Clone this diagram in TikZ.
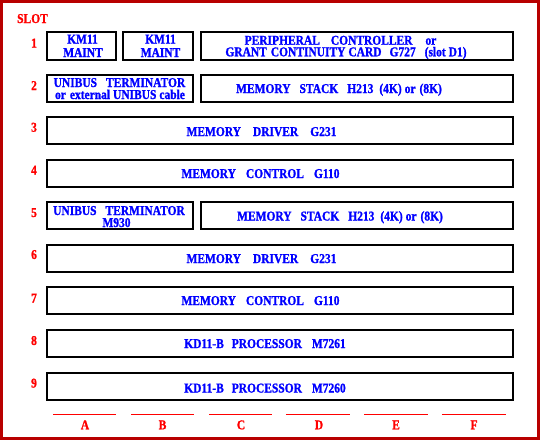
\documentclass[tikz,border=0pt]{standalone}
\usepackage{fontspec}
\setmainfont{Liberation Serif}[FakeStretch=0.85, BoldFeatures={FakeBold=1.2}]
\definecolor{frame}{RGB}{184,0,0}
\definecolor{txtblue}{RGB}{0,0,255}
\definecolor{txtred}{RGB}{255,0,0}
\newcommand\gapp[1]{\hspace{#1pt}}
\tikzset{
  box/.style={draw=black, line width=2pt, inner sep=0pt, minimum height=27pt},
  lbl/.style={text=txtblue, font=\bfseries\fontsize{13.5}{14}\selectfont, anchor=base, inner sep=0pt},
  rlbl/.style={text=txtred, font=\bfseries\fontsize{13.5}{14}\selectfont, anchor=base, inner sep=0pt},
  slotline/.style={draw=txtred, line width=1.3pt}
}
\begin{document}
\begin{tikzpicture}[x=1pt,y=-1pt]
\useasboundingbox (0,0) rectangle (540,440);
\fill[white] (0,0) rectangle (540,440);
\draw[frame, line width=3pt] (1.5,1.5) rectangle (538.5,438.5);

\node[rlbl] (slot) at (32.5,23) {SLOT};

% row 1
\node[box, minimum width=69pt, minimum height=28pt] (b1a) at (81,46) {};
\node[box, minimum width=70pt, minimum height=28pt] (b1b) at (158,46) {};
\node[box, minimum width=311.5pt, minimum height=28pt] (b1c) at (356.75,46) {};
\node[lbl] (t1a1) at (82.5,43.5) {KM11};
\node[lbl] (t1a2) at (83,57) {MAINT};
\node[lbl] (t1b1) at (160.5,43.5) {KM11};
\node[lbl] (t1b2) at (160.5,57) {MAINT};
\node[lbl] (t1c1) at (340.5,44.7) {PERIPHERAL\gapp{11}CONTROLLER\gapp{13}or};
\node[lbl] (t1c2) at (346,56.3) {GRANT\gapp{4}CONTINUITY\gapp{3}CARD\gapp{8}G727\gapp{9}(slot\gapp{3}D1)};

% row 2
\node[box, minimum width=146.5pt] (b2a) at (119.75,88) {};
\node[box, minimum width=311.5pt] (b2b) at (356.75,88) {};
\node[lbl] (t2a1) at (119.5,87) {UNIBUS\gapp{9}TERMINATOR};
\node[lbl] (t2a2) at (120,99) {or\gapp{4}external\gapp{3}UNIBUS\gapp{3}cable};
\node[lbl] (t2b) at (339,93) {MEMORY\gapp{9}STACK\gapp{9}H213\gapp{6}(4K)\gapp{3}or\gapp{4}(8K)};

% row 3
\node[box, minimum width=466pt] (b3) at (279.5,130.5) {};
\node[lbl] (t3) at (261.5,136) {MEMORY\gapp{12}DRIVER\gapp{12}G231};

% row 4
\node[box, minimum width=466pt] (b4) at (279.5,173) {};
\node[lbl] (t4) at (260.5,178) {MEMORY\gapp{10}CONTROL\gapp{10}G110};

% row 5
\node[box, minimum width=146.5pt] (b5a) at (119.75,215.5) {};
\node[box, minimum width=311.5pt] (b5b) at (356.75,215.5) {};
\node[lbl] (t5a1) at (119,215) {UNIBUS\gapp{9}TERMINATOR};
\node[lbl] (t5a2) at (116.5,227) {M930};
\node[lbl] (t5b) at (340,220.5) {MEMORY\gapp{9}STACK\gapp{9}H213\gapp{6}(4K)\gapp{3}or\gapp{4}(8K)};

% row 6
\node[box, minimum width=466pt] (b6) at (279.5,258) {};
\node[lbl] (t6) at (261.5,263) {MEMORY\gapp{12}DRIVER\gapp{12}G231};

% row 7
\node[box, minimum width=466pt] (b7) at (279.5,300.5) {};
\node[lbl] (t7) at (260.5,305) {MEMORY\gapp{10}CONTROL\gapp{10}G110};

% row 8
\node[box, minimum width=466pt] (b8) at (279.5,343) {};
\node[lbl] (t8) at (265,348) {KD11-B\gapp{8}PROCESSOR\gapp{10}M7261};

% row 9
\node[box, minimum width=466pt] (b9) at (279.5,386.5) {};
\node[lbl] (t9) at (265,392.5) {KD11-B\gapp{8}PROCESSOR\gapp{10}M7260};

% slot numbers
\node[rlbl] (n1) at (34,47.5) {1};
\node[rlbl] (n2) at (34,90) {2};
\node[rlbl] (n3) at (34,131.7) {3};
\node[rlbl] (n4) at (34,174.5) {4};
\node[rlbl] (n5) at (34,217) {5};
\node[rlbl] (n6) at (34,259) {6};
\node[rlbl] (n7) at (34,302.5) {7};
\node[rlbl] (n8) at (34,345) {8};
\node[rlbl] (n9) at (34,387.5) {9};

% column markers
\draw[slotline] (53,414.3) -- (116,414.3);
\draw[slotline] (131,414.3) -- (193.7,414.3);
\draw[slotline] (209,414.3) -- (271.7,414.3);
\draw[slotline] (285.8,414.3) -- (349.9,414.3);
\draw[slotline] (364,414.3) -- (427.7,414.3);
\draw[slotline] (441.8,414.3) -- (505.5,414.3);
\node[rlbl] (cA) at (85,429.3) {A};
\node[rlbl] (cB) at (162.5,429.3) {B};
\node[rlbl] (cC) at (241,429.3) {C};
\node[rlbl] (cD) at (319,429.3) {D};
\node[rlbl] (cE) at (396,429.3) {E};
\node[rlbl] (cF) at (474,429.3) {F};
\end{tikzpicture}
\end{document}
